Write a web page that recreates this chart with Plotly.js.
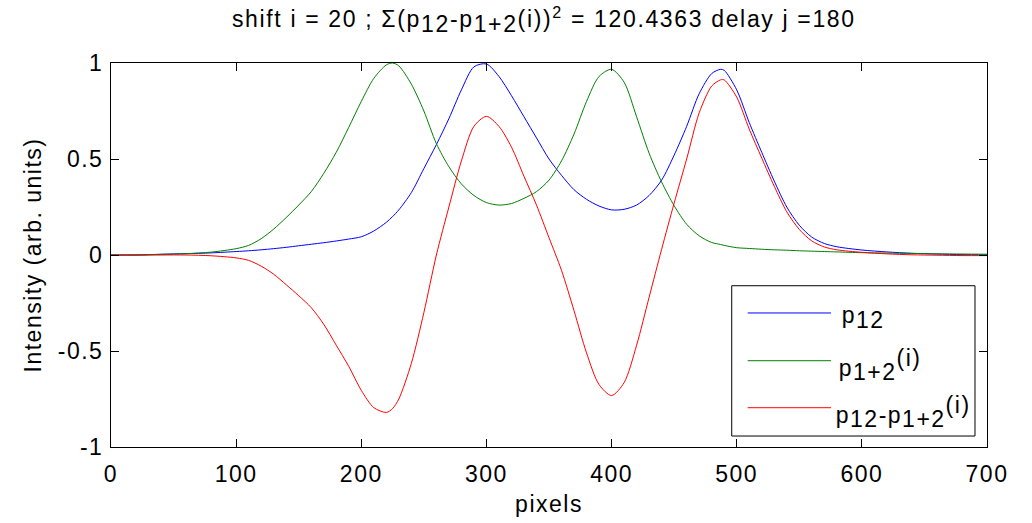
<!DOCTYPE html>
<html>
<head>
<meta charset="utf-8">
<script src="https://cdn.plot.ly/plotly-3.0.1.min.js"></script>
<style>
  html, body { margin: 0; padding: 0; background: #fff; }
  #chart { width: 1032px; height: 523px; }
  #chart text { letter-spacing: 1.5px; }
  #chart text.gtitle { letter-spacing: 1.65px; }
</style>
</head>
<body>
<div id="chart"></div>
<script>
// ---- data ----
const pixels = [0,20,40,60,80,100,110,120,130,140,150,160,170,180,190,200,210,220,225,230,240,250,260,270,280,290,300,310,320,330,340,350,360,370,380,390,400,410,420,430,440,450,460,470,480,487,490,500,510,520,530,540,550,560,570,580,600,620,640,660,680,700];

const p12 = [0,0,0.004,0.007,0.011,0.018,0.022,0.027,0.033,0.040,0.048,0.056,0.064,0.073,0.083,0.095,0.125,0.17,0.20,0.235,0.325,0.45,0.575,0.71,0.86,0.98,0.995,0.93,0.83,0.72,0.61,0.50,0.415,0.34,0.29,0.255,0.235,0.238,0.26,0.31,0.39,0.52,0.67,0.84,0.945,0.967,0.962,0.86,0.69,0.535,0.385,0.25,0.155,0.093,0.06,0.043,0.026,0.016,0.009,0.005,0.002,0.001];

const p1plus2 = [0,0.001,0.003,0.007,0.015,0.033,0.05,0.085,0.135,0.195,0.26,0.33,0.425,0.535,0.665,0.80,0.92,0.99,1.0,0.985,0.89,0.75,0.58,0.46,0.37,0.31,0.273,0.26,0.268,0.295,0.33,0.39,0.49,0.63,0.80,0.93,0.967,0.90,0.72,0.53,0.38,0.257,0.16,0.10,0.065,0.055,0.05,0.038,0.034,0.03,0.027,0.025,0.022,0.02,0.018,0.016,0.012,0.01,0.008,0.006,0.005,0.004];

const difference = [0,-0.001,0,0,-0.004,-0.015,-0.028,-0.058,-0.10,-0.155,-0.212,-0.274,-0.361,-0.47,-0.58,-0.705,-0.795,-0.82,-0.80,-0.75,-0.565,-0.30,0.0,0.25,0.49,0.67,0.722,0.67,0.562,0.41,0.26,0.09,-0.08,-0.29,-0.51,-0.675,-0.732,-0.665,-0.47,-0.22,0.03,0.27,0.50,0.74,0.88,0.912,0.912,0.822,0.656,0.505,0.358,0.225,0.133,0.073,0.042,0.027,0.014,0.006,0.001,-0.001,-0.003,-0.003];

const xTickVals = [0,100,200,300,400,500,600,700];
const xTickText = ['0','100','200','300','400','500','600','700'];
const yTickVals = [-1,-0.5,0,0.5,1];
const yTickText = ['-1','-0.5','0','0.5','1'];

const seriesNames = [
  'p<sub><span style="font-size:23px">12</span></sub>',
  'p<sub><span style="font-size:23px">1+2</span></sub><sup><span style="font-size:23px">(i)</span></sup>',
  'p<sub><span style="font-size:23px">12</span></sub>-p<sub><span style="font-size:23px">1+2</span></sub><sup><span style="font-size:23px">(i)</span></sup>'
];
const seriesColors = ['#0000FF', '#008000', '#FF0000'];

const FONT = 'Liberation Sans, Arial, Helvetica, sans-serif';

const traces = [p12, p1plus2, difference].map((ys, k) => ({
  x: pixels, y: ys, type: 'scatter', mode: 'lines',
  name: seriesNames[k],
  line: { color: seriesColors[k], width: 1, shape: 'spline', smoothing: 0.8 },
  showlegend: false, hoverinfo: 'skip'
}));

// custom MATLAB-style legend (paper coordinates)
const legX0 = 0.7086, legX1 = 0.9863, legY0 = 0.0286, legY1 = 0.42;
const rowY = [0.349, 0.2247, 0.1023];
const shapes = [{
  type: 'rect', xref: 'paper', yref: 'paper',
  x0: legX0, x1: legX1, y0: legY0, y1: legY1,
  line: { color: '#000', width: 1 }, fillcolor: '#fff', layer: 'above'
}];
const annotations = [];
rowY.forEach((yy, k) => {
  shapes.push({
    type: 'line', xref: 'paper', yref: 'paper',
    x0: 0.7268, x1: 0.8219, y0: yy, y1: yy,
    line: { color: seriesColors[k], width: 1 }, layer: 'above'
  });
  annotations.push({
    xref: 'paper', yref: 'paper', x: 0.8345, y: yy - 0.012,
    xanchor: 'left', yanchor: 'middle', showarrow: false,
    text: seriesNames[k], font: { family: FONT, size: 23, color: '#000' }
  });
});

const axisCommon = {
  ticks: 'inside', ticklen: 8, tickwidth: 1, tickcolor: '#000',
  showline: true, linecolor: '#000', linewidth: 1, mirror: 'ticks',
  showgrid: false, zeroline: false,
  tickfont: { family: FONT, size: 23, color: '#000' },
  tickmode: 'array', fixedrange: true
};

const layout = {
  width: 1032, height: 523,
  margin: { l: 111, r: 45, t: 63, b: 76, pad: 0 },
  paper_bgcolor: '#fff', plot_bgcolor: '#fff',
  font: { family: FONT, size: 23, color: '#000' },
  title: {
    text: 'shift i = 20 ; Σ(p<sub><span style="font-size:23px">12</span></sub>-p<sub><span style="font-size:23px">1+2</span></sub>(i))<sup>2</sup> = 120.4363 delay j =180',
    font: { family: FONT, size: 23, color: '#000' },
    x: 0.527, xref: 'container', xanchor: 'center',
    y: 0.963, yref: 'container', yanchor: 'middle'
  },
  xaxis: Object.assign({}, axisCommon, {
    range: [0, 700], tickvals: xTickVals, ticktext: xTickText,
    ticklabelstandoff: 6,
    title: { text: 'pixels', font: { family: FONT, size: 23, color: '#000' }, standoff: 10 }
  }),
  yaxis: Object.assign({}, axisCommon, {
    range: [-1, 1], tickvals: yTickVals, ticktext: yTickText,
    ticklabelstandoff: 2,
    title: { text: 'Intensity (arb. units)', font: { family: FONT, size: 23, color: '#000' }, standoff: 15 }
  }),
  shapes: shapes,
  annotations: annotations,
  showlegend: false
};

Plotly.newPlot('chart', traces, layout, { displayModeBar: false, staticPlot: true });
</script>
</body>
</html>
